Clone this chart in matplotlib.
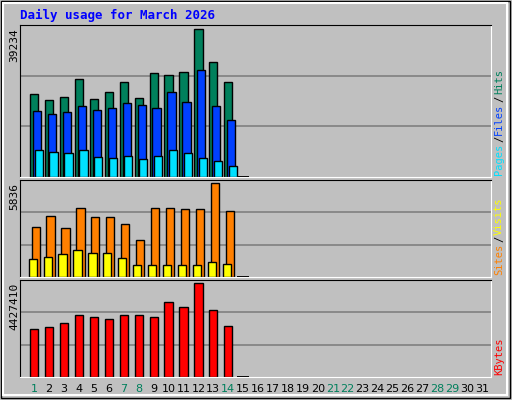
import matplotlib
matplotlib.use("Agg")
import matplotlib.pyplot as plt
from matplotlib.patches import Rectangle

days = list(range(1, 32))
hits = [22000, 20400, 21200, 26000, 20700, 22500, 25200, 21000, 27600, 27000, 27800, 39234, 30700, 25200]
files = [17500, 16700, 17200, 18800, 17800, 18300, 19600, 19100, 18300, 22500, 19900, 28400, 18800, 15100]
pages = [7200, 6600, 6400, 7200, 5300, 5000, 5600, 4800, 5600, 7200, 6400, 5000, 4200, 2900]
sites = [3100, 3800, 3050, 4250, 3700, 3700, 3300, 2300, 4300, 4250, 4200, 4200, 5836, 4100]
visits = [1100, 1250, 1450, 1700, 1500, 1500, 1200, 750, 750, 750, 750, 750, 950, 830]
kbytes = [2280000, 2330000, 2520000, 2900000, 2810000, 2710000, 2900000, 2900000, 2810000, 3530000, 3290000, 4427410, 3150000, 2380000]
weekend = [1, 7, 8, 14, 21, 22, 28, 29]

W, H = 512, 400
fig = plt.figure(figsize=(W/100, H/100), dpi=100)
fig.patch.set_facecolor('#c0c0c0')
bg = fig.add_axes([0, 0, 1, 1]); bg.set_xlim(0, W); bg.set_ylim(H, 0); bg.axis('off')
bg.add_patch(Rectangle((1, 1), W-3, H-3, fill=False, ec='black', lw=1))
bg.add_patch(Rectangle((3, 3), W-8, H-8, fill=False, ec='white', lw=1.5))
mono = 'DejaVu Sans Mono'
bg.text(20, 15, 'Daily usage for March 2026', color='#0000ff', fontsize=9, fontweight='bold',
        family=mono, va='center')

def panel(top, bot, series, colors, offs, maxlabel, labels):
    ax = fig.add_axes([20/W, 1-bot/H, (491-20)/W, (bot-top)/H])
    ax.set_facecolor('#c0c0c0')
    mx = max(max(s) for s in series)
    ax.set_ylim(0, mx*1.03)
    ax.set_xlim(0.05, 31.6)
    for f in (1/3, 2/3):
        ax.axhline(mx*1.03*f, color='#808080', lw=1.2, zorder=0)
    for s, c, o in zip(series, colors, offs):
        ax.bar([d + o for d in days[:len(s)]], s, width=0.55, color=c, ec='black', lw=1, zorder=2)
    ax.bar([15], [mx*0.01], width=0.8, color='black', zorder=2)
    ax.set_xticks([]); ax.set_yticks([])
    for sp in ax.spines.values(): sp.set_color('black')
    ax.spines['bottom'].set_color('white'); ax.spines['right'].set_color('white')
    bg.text(14, top+3, maxlabel, rotation=90, fontsize=8, family=mono, ha='center', va='top')
    y = bot - 2
    for t, c in labels:
        bg.text(499, y, t, rotation=90, color=c, fontsize=7.5, family=mono, ha='center', va='bottom')
        y -= len(t) * 6.4 + 1

panel(25, 177, [hits, files, pages], ['#00805c', '#0040ff', '#00e0ff'], [0, 0.2, 0.3], '39234',
      [('Pages', '#00e0ff'), ('/', 'black'), ('Files', '#0040ff'), ('/', 'black'), ('Hits', '#00805c')])
panel(180, 277, [sites, visits], ['#ff8000', '#ffff00'], [0.1, -0.1], '5836',
      [('Sites', '#ff8000'), ('/', 'black'), ('Visits', '#ffff00')])
panel(280, 377, [kbytes], ['#ff0000'], [0], '4427410', [('KBytes', '#ff0000')])

for d in days:
    x = 20 + (d - 0.05) * (471 / 31.55)
    c = '#00805c' if d in weekend else 'black'
    bg.text(x, 389, str(d), color=c, fontsize=8, family='DejaVu Sans', ha='center', va='center')

fig.savefig('out.png', dpi=100, facecolor=fig.get_facecolor())
